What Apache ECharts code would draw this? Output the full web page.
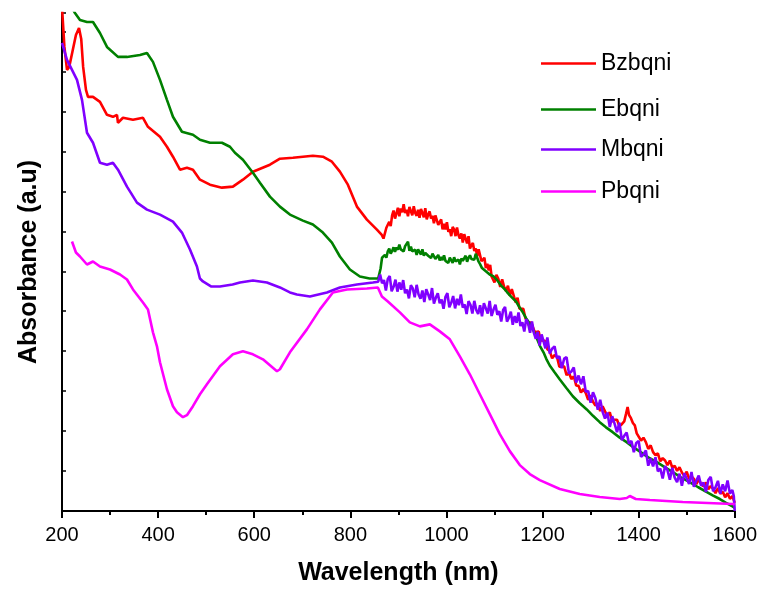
<!DOCTYPE html>
<html>
<head>
<meta charset="utf-8">
<script src="https://cdn.jsdelivr.net/npm/echarts@6/dist/echarts.min.js"></script>
<style>html,body{margin:0;padding:0;background:#fff}#c{width:760px;height:591px}</style>
</head>
<body>
<div id="c"></div>
<script>
const seriesNames = ['Bzbqni', 'Ebqni', 'Mbqni', 'Pbqni'];
const xTicks = [200, 400, 600, 800, 1000, 1200, 1400, 1600];

const bzbqni = [
  [200,12.8],[205,11.8],[210.4,11.225],[215,11.3],[222,11.7],[229,12.1],[235.4,12.275],[240,12.0],[244,11.3],
  [249.9,10.725],[254.1,10.55],[264.5,10.55],[279,10.425],[293.6,10.1],[306,10.05],[314.4,10.1],[316.5,9.9],
  [326.9,10.025],[347.7,9.975],[368.5,10.025],[378.9,9.8],[403.9,9.55],[418.4,9.3],[430.9,9.05],[445.5,8.725],
  [460,8.775],[472.5,8.725],[487.1,8.475],[507.9,8.35],[532.8,8.275],[555.7,8.3],[576.5,8.475],[597.3,8.675],
  [632.7,8.85],[653.5,9.0],[680.5,9.025],[722.1,9.075],[742.9,9.05],[761.7,8.925],[778.3,8.675],[794.9,8.35],
  [813.7,7.8],[834.5,7.475],[855.3,7.225],[865,7.1],[869,7.0],
  [872,6.98],[875,7.27],[878,7.25],[881,7.42],[884,7.31],[887,7.58],[890,7.70],[893,7.50],[896,7.63],[899,7.77],
  [902,7.56],[905,7.75],[908,7.66],[911,7.86],[914,7.64],[917,7.72],[920,7.56],[923,7.79],[926,7.74],[929,7.58],
  [932,7.81],[935,7.64],[938,7.57],[941,7.72],[944,7.52],[947,7.74],[950,7.64],[953,7.53],[956,7.76],[959,7.48],
  [962,7.60],[965,7.68],[968,7.50],[971,7.57],[974,7.38],[977,7.58],[980,7.62],[983,7.34],[986,7.39],[989,7.48],
  [992,7.23],[995,7.37],[998,7.23],[1001,7.41],[1004,7.17],[1007,7.23],[1010,7.06],[1013,7.29],[1016,7.23],
  [1019,7.06],[1022,7.28],[1025,7.09],[1028,7.00],[1031,7.13],[1034,6.90],[1037,7.11],[1040,7.00],[1043,6.88],
  [1046,7.06],[1049,6.75],[1052,6.83],[1055,6.89],[1058,6.69],[1061,6.75],[1064,6.56],[1067,6.73],[1070,6.75],
  [1073,6.43],[1076,6.45],[1079,6.52],[1082,6.26],[1085,6.37],[1088,6.20],[1091,6.34],[1094,6.05],[1097,6.08],
  [1100,5.90],[1104,6.09],[1108,5.99],[1112,5.79],[1116,5.98],[1120,5.79],[1124,5.69],[1128,5.82],[1132,5.57],
  [1136,5.73],[1140,5.57],[1144,5.40],[1148,5.52],[1152,5.24],[1156,5.25],[1160,5.24],[1164,5.02],[1168,5.02],
  [1172,4.82],[1176,4.91],[1180,4.88],[1184,4.65],[1188,4.64],[1192,4.67],[1196,4.45],[1200,4.50],
  [1205,4.44],[1210,4.23],[1215,4.18],[1220,4.00],[1225,4.08],[1230,4.04],[1235,3.79],[1240,3.79],[1245,3.80],
  [1250,3.58],[1255,3.64],[1260,3.48],[1265,3.55],[1270,3.32],[1275,3.31],[1280,3.14],[1285,3.23],[1290,3.13],
  [1295,2.96],[1300,3.07],[1305,2.91],[1310,2.82],[1315,2.87],[1320,2.68],[1325,2.80],[1330,2.67],[1335,2.55],
  [1340,2.65],[1345,2.41],[1350,2.46],[1355,2.46],[1360,2.30],[1365,2.35],[1370,2.42],[1374,2.62],[1377,2.78],
  [1380,2.58],[1384,2.50],[1388,2.38],[1392,2.32],[1396,2.12],[1400,2.14],[1405,1.94],[1410,2.01],[1415,1.90],
  [1420,1.73],[1425,1.82],[1430,1.65],[1435,1.57],[1440,1.62],[1445,1.42],[1450,1.50],[1455,1.44],[1460,1.32],
  [1465,1.44],[1470,1.26],[1475,1.31],[1480,1.18],[1485,1.27],[1490,1.14],[1495,1.06],[1500,1.16],[1505,0.98],
  [1510,1.04],[1515,0.98],[1520,0.85],[1525,0.97],[1530,0.85],[1535,0.79],[1540,0.89],[1545,0.72],[1550,0.80],
  [1555,0.73],[1560,0.62],[1565,0.75],[1570,0.61],[1575,0.66],[1580,0.52],[1585,0.62],[1590,0.48],[1595,0.55],
  [1600,0.38]
];

const ebqni = [
  [215,12.9],[227,12.65],[237.4,12.475],[252,12.425],[264.5,12.425],[279,12.15],[293.6,11.8],[316.5,11.55],
  [335.2,11.55],[362.3,11.6],[376.8,11.65],[389.3,11.425],[403.9,10.975],[418.4,10.475],[430.9,10.05],
  [449.6,9.675],[472.5,9.6],[487.1,9.475],[507.9,9.4],[532.8,9.4],[549.5,9.3],[559.9,9.15],[576.5,8.975],
  [597.3,8.65],[611.9,8.4],[632.7,8.05],[653.5,7.8],[674.3,7.6],[701.3,7.45],[722.1,7.35],[742.9,7.15],
  [761.7,6.9],[778.3,6.55],[799.1,6.225],[819.9,6.05],[840,6.0],[858,6.0],[861,6.05],
  [863,6.25],[866,6.52],[869,6.52],[872,6.59],[875,6.52],[878,6.68],[881,6.75],[884,6.62],[887,6.69],[890,6.78],
  [893,6.67],[896,6.78],[899,6.72],[902,6.85],[905,6.73],[908,6.78],[911,6.68],[914,6.81],[917,6.80],[920,6.92],
  [923,6.69],[926,6.80],[929,6.68],[932,6.64],[935,6.72],[938,6.59],[941,6.73],[944,6.66],[947,6.60],[950,6.73],
  [953,6.57],[956,6.64],[959,6.68],[962,6.57],[965,6.61],[968,6.51],[971,6.62],[974,6.65],[977,6.49],[980,6.53],
  [983,6.59],[986,6.45],[989,6.54],[992,6.46],[995,6.58],[998,6.44],[1001,6.48],[1004,6.39],[1007,6.52],
  [1010,6.48],[1013,6.39],[1016,6.53],[1019,6.43],[1022,6.39],[1025,6.47],[1028,6.35],[1031,6.50],[1034,6.44],
  [1037,6.41],[1040,6.57],[1043,6.42],[1046,6.52],[1049,6.58],[1052,6.49],[1055,6.54],[1058,6.47],[1061,6.62],
  [1064,6.62],[1067,6.42],[1070,6.36],[1074,6.26],[1078,6.27],[1082,6.18],[1086,6.20],[1090,6.10],[1094,6.12],
  [1098,6.05],[1102,6.02],[1106,5.95],[1110,5.92],[1114,5.82],[1118,5.80],[1122,5.72],[1126,5.66],[1130,5.62],
  [1134,5.55],[1138,5.50],
  [1145,5.42],[1152,5.28],[1159,5.15],[1166,5.0],[1173,4.88],[1180,4.72],[1188,4.5],[1195,4.3],[1202,4.15],
  [1208,3.98],[1215,3.82],[1225,3.65],[1236,3.47],[1250,3.25],[1263,3.05],[1277,2.88],[1292,2.72],[1305,2.56],
  [1319,2.4],[1332,2.27],[1346,2.15],[1360,2.02],[1375,1.9],[1388,1.78],[1402,1.67],[1420,1.52],[1438,1.4],
  [1455,1.27],[1471,1.15],[1488,1.02],[1506,0.9],[1524,0.77],[1542,0.65],[1555,0.56],[1569,0.475],[1582,0.38],
  [1594,0.3],[1600,0.25]
];

const mbqni = [
  [200,11.9],[210.4,11.475],[220.8,11.225],[231.2,10.975],[241.6,10.475],[252,9.65],[264.5,9.4],[279,8.9],
  [293.6,8.85],[306,8.9],[316.5,8.725],[335.2,8.3],[356,7.9],[376.8,7.725],[403.9,7.6],[430.9,7.425],
  [449.6,7.15],[466.3,6.725],[480.8,6.3],[487,6.0],[493.3,5.925],[510,5.8],[528.7,5.8],[555,5.85],[570.3,5.9],
  [597.3,5.95],[626.4,5.9],[653.5,5.775],[674.3,5.65],[688.8,5.6],[715.9,5.55],[751.3,5.65],[778.3,5.775],
  [813.7,5.85],[847,5.9],[858,5.92],
  [862,6.10],[866,5.88],[870,5.96],[874,5.70],[878,5.99],[882,6.06],[886,5.68],[890,5.79],[894,5.97],[898,5.67],
  [902,5.90],[906,5.72],[910,5.96],[914,5.63],[918,5.72],[922,5.50],[926,5.83],[930,5.75],[934,5.53],[938,5.84],
  [942,5.60],[946,5.49],[950,5.70],[954,5.41],[958,5.73],[962,5.60],[966,5.46],[970,5.76],[974,5.37],[978,5.52],
  [982,5.63],[986,5.38],[990,5.47],[994,5.24],[998,5.54],[1002,5.63],[1006,5.28],[1010,5.39],[1014,5.56],
  [1018,5.25],[1022,5.49],[1026,5.33],[1030,5.60],[1034,5.27],[1038,5.35],[1042,5.11],[1046,5.43],[1050,5.34],
  [1054,5.12],[1058,5.44],[1062,5.21],[1066,5.11],[1070,5.33],[1074,5.05],[1078,5.38],[1082,5.25],[1086,5.12],
  [1090,5.44],[1094,5.06],[1098,5.22],[1102,5.34],[1106,5.09],[1110,5.18],[1114,4.92],[1118,5.21],[1122,5.29],
  [1126,4.92],[1130,5.02],[1134,5.17],[1138,4.84],[1142,5.06],[1146,4.89],[1150,5.15],[1154,4.81],[1158,4.90],
  [1162,4.67],[1166,4.98],[1170,4.88],[1174,4.64],[1178,4.92],[1182,4.64],[1186,4.49],[1190,4.66],[1194,4.32],
  [1198,4.60],[1202,4.43],[1206,4.25],[1210,4.52],[1215,4.12],[1220,4.24],[1225,4.30],[1230,4.00],[1235,4.05],
  [1240,3.75],[1245,3.99],[1250,4.03],[1255,3.62],[1260,3.67],[1265,3.77],[1270,3.39],[1275,3.57],[1280,3.35],
  [1285,3.55],[1290,3.16],[1295,3.18],[1300,2.89],[1305,3.15],[1310,3.00],[1315,2.71],[1320,2.96],[1325,2.66],
  [1330,2.49],[1335,2.64],[1340,2.28],[1345,2.55],[1350,2.36],[1355,2.15],[1360,2.39],[1365,1.95],[1370,2.06],
  [1375,2.14],[1380,1.86],[1385,1.93],[1390,1.65],[1395,1.88],[1400,1.93],[1405,1.53],[1410,1.59],[1415,1.69],
  [1420,1.31],[1425,1.49],[1430,1.29],[1435,1.52],[1440,1.17],[1445,1.24],[1450,0.99],[1455,1.30],[1460,1.20],
  [1465,0.96],[1470,1.26],[1475,1.01],[1480,0.90],[1485,1.11],[1490,0.81],[1495,1.12],[1500,0.99],[1505,0.85],
  [1510,1.15],[1515,0.78],[1520,0.94],[1525,1.06],[1530,0.81],[1535,0.89],[1540,0.65],[1545,0.95],[1550,1.03],
  [1555,0.67],[1560,0.77],[1565,0.93],[1570,0.61],[1575,0.84],[1580,0.67],[1585,0.94],[1590,0.61],[1595,0.70],
  [1598,0.55],[1600,0.18]
];

const pbqni = [
  [220.8,6.925],[229,6.65],[237.4,6.55],[252,6.35],[264.5,6.425],[279,6.3],[299.8,6.225],[320.7,6.1],
  [335.2,5.975],[347.7,5.725],[368.5,5.4],[378.9,5.225],[389.3,4.65],[397.6,4.3],[403.9,3.9],[418.4,3.225],
  [430.9,2.8],[439.2,2.65],[451.7,2.525],[460,2.575],[472.5,2.8],[487.1,3.1],[501.6,3.35],[528.7,3.8],
  [555.7,4.1],[576.5,4.175],[597.3,4.1],[618.1,3.975],[632.7,3.825],[647.3,3.675],[653.5,3.725],[674.3,4.15],
  [709.6,4.725],[736.7,5.225],[763.7,5.65],[792.9,5.725],[834.5,5.75],[857.3,5.775],[865.7,5.55],[878.1,5.425],
  [903.1,5.15],[923.9,4.9],[944.7,4.8],[965.5,4.85],[986.3,4.675],[1007.1,4.475],[1027.9,4.05],[1048.7,3.6],
  [1069.5,3.1],[1090.3,2.6],[1111.1,2.1],[1131.9,1.675],[1152.7,1.325],[1173.5,1.1],[1194.3,0.95],
  [1235.9,0.725],[1277.5,0.6],[1319.1,0.525],[1360.7,0.475],[1375.3,0.5],[1381.6,0.55],[1394,0.475],
  [1423.2,0.45],[1491.8,0.4],[1595.8,0.35],[1600,0.35]
];

const colors = ['#ff0000', '#008000', '#8000ff', '#ff00ff'];
const dataSets = [bzbqni, ebqni, mbqni, pbqni];
const legendTops = [47, 93, 133, 175];

const FONT = '"Liberation Sans", Arial, sans-serif';
const chart = echarts.init(document.getElementById('c'), null, {renderer: 'canvas'});

const option = {
  animation: false,
  backgroundColor: '#ffffff',
  grid: {left: 62, right: 25, top: 13, bottom: 79, containLabel: false},
  legend: seriesNames.map((n, i) => ({
    data: [n],
    left: 536,
    top: legendTops[i],
    itemWidth: 55,
    itemHeight: 24,
    icon: 'path://M0,11 L55,11 L55,13.6 L0,13.6 Z',
    itemStyle: {color: colors[i]},
    textStyle: {fontSize: 23, color: '#000', fontFamily: FONT},
    selectedMode: false
  })),
  xAxis: {
    type: 'value', min: 200, max: 1600, interval: 200,
    name: 'Wavelength (nm)', nameLocation: 'middle', nameGap: 50,
    nameTextStyle: {fontSize: 25, fontWeight: 'bold', color: '#000', fontFamily: FONT},
    axisLine: {show: true, onZero: false, lineStyle: {color: '#000', width: 2}},
    axisTick: {show: true, inside: false, length: 7, lineStyle: {color: '#000', width: 2}},
    minorTick: {show: true, splitNumber: 2, length: 4, lineStyle: {color: '#000', width: 2}},
    axisLabel: {fontSize: 20, color: '#000', margin: 14, fontFamily: FONT,
      formatter: v => xTicks.includes(v) ? String(v) : ''},
    splitLine: {show: false}
  },
  yAxis: {
    type: 'value', min: 0.175, max: 12.65, interval: 1,
    name: 'Absorbance (a.u)', nameLocation: 'middle', nameGap: 20,
    nameTextStyle: {fontSize: 25, fontWeight: 'bold', color: '#000', fontFamily: FONT},
    axisLine: {show: true, onZero: false, lineStyle: {color: '#000', width: 2}},
    axisTick: {show: true, inside: true, length: 4, lineStyle: {color: '#000', width: 1.5}},
    axisLabel: {show: false},
    splitLine: {show: false}
  },
  series: seriesNames.map((n, i) => ({
    name: n,
    type: 'line',
    data: dataSets[i],
    symbol: 'none',
    showSymbol: false,
    clip: true,
    lineStyle: {color: colors[i], width: 2.6},
    itemStyle: {color: colors[i]}
  }))
};
chart.setOption(option);
</script>
</body>
</html>
